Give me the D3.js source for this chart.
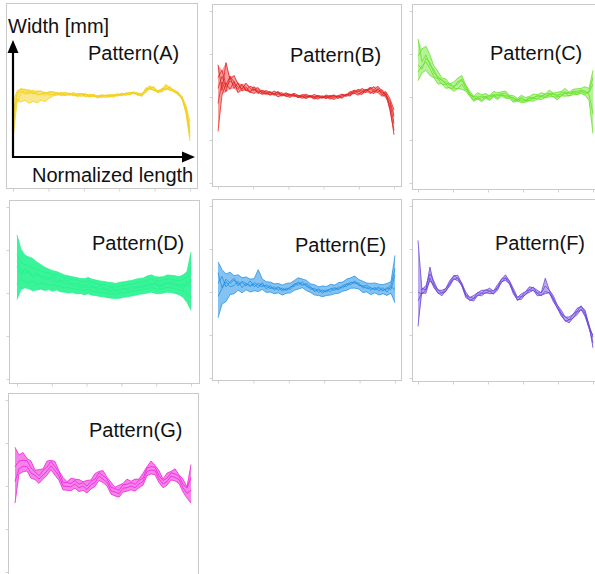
<!DOCTYPE html>
<html>
<head>
<meta charset="utf-8">
<script src="https://cdn.jsdelivr.net/npm/d3@7"></script>
<style>
  html, body { margin: 0; padding: 0; background: #fff; }
  svg { display: block; font-family: "Liberation Sans", Arial, Helvetica, sans-serif; }
</style>
</head>
<body>
<svg id="chart" width="595" height="574"></svg>
<script>
// Width profiles along the normalized length (45 samples per trace, 0 → 1)
const patternNames = ["Pattern(A)", "Pattern(B)", "Pattern(C)", "Pattern(D)", "Pattern(E)", "Pattern(F)", "Pattern(G)"];
const lengthTicks = [0, 0.2, 0.4, 0.6, 0.8, 1];
const widthTicks = [0, 1, 2, 3, 4];

const tracesA = [
  [1.30, 2.02, 2.18, 2.06, 2.15, 2.04, 2.12, 2.10, 2.01, 2.11, 2.08, 2.02, 2.09, 2.03, 2.07, 2.00, 2.06, 2.05, 1.98, 2.04, 2.03, 1.95, 2.03, 2.01, 1.97, 2.04, 2.00, 2.07, 2.01, 2.09, 2.05, 2.08, 1.99, 2.19, 2.15, 2.22, 2.07, 2.18, 2.14, 2.22, 2.09, 2.10, 1.92, 1.72, 1.05],
  [1.00, 1.85, 2.08, 2.13, 2.04, 2.10, 2.02, 2.05, 2.09, 2.02, 2.04, 2.09, 2.00, 2.07, 2.01, 2.06, 1.98, 2.03, 2.04, 1.97, 2.00, 2.00, 1.96, 2.02, 2.03, 1.97, 2.05, 2.00, 2.06, 2.03, 2.10, 2.01, 2.05, 2.10, 2.24, 2.12, 2.13, 2.09, 2.24, 2.12, 2.15, 2.02, 1.98, 1.58, 0.95],
  [1.70, 1.92, 1.86, 1.90, 1.83, 1.88, 1.84, 1.90, 1.87, 1.95, 2.00, 2.03, 2.07, 2.01, 2.05, 2.03, 2.04, 1.99, 2.04, 2.02, 1.98, 2.01, 2.02, 1.96, 2.02, 2.01, 2.00, 2.04, 2.06, 2.03, 2.07, 2.03, 2.00, 2.16, 2.18, 2.13, 2.12, 2.16, 2.18, 2.14, 2.13, 2.08, 1.96, 1.64, 1.25],
  [1.85, 2.12, 2.15, 2.16, 2.11, 2.13, 2.09, 2.12, 2.06, 2.08, 2.10, 2.07, 2.05, 2.09, 2.04, 2.08, 2.03, 2.06, 2.05, 2.01, 2.04, 1.99, 2.02, 2.00, 2.03, 2.02, 2.05, 2.02, 2.07, 2.08, 2.06, 2.04, 2.06, 2.12, 2.21, 2.19, 2.08, 2.12, 2.27, 2.18, 2.12, 2.05, 2.00, 1.78, 1.40],
  [1.50, 2.08, 2.10, 2.04, 2.09, 2.07, 2.05, 2.03, 2.08, 2.05, 2.02, 2.06, 2.03, 2.01, 2.06, 2.02, 2.01, 2.05, 2.00, 1.99, 2.02, 1.97, 1.99, 2.02, 1.99, 2.01, 2.03, 2.05, 2.02, 2.05, 2.09, 2.06, 2.03, 2.08, 2.17, 2.14, 2.10, 2.15, 2.16, 2.20, 2.10, 2.07, 1.94, 1.70, 1.15]
];

const tracesB = [
  [2.45, 2.62, 2.28, 2.48, 2.35, 2.22, 2.30, 2.14, 2.25, 2.20, 2.08, 2.16, 2.12, 2.05, 2.14, 2.08, 2.02, 2.10, 2.05, 2.07, 1.98, 2.06, 2.03, 1.99, 2.06, 2.02, 1.97, 2.05, 2.01, 2.04, 1.96, 2.06, 2.03, 2.13, 2.07, 2.18, 2.14, 2.10, 2.23, 2.16, 2.25, 2.12, 2.04, 1.90, 1.55],
  [1.20, 2.05, 2.32, 2.18, 2.36, 2.10, 2.20, 2.24, 2.12, 2.08, 2.17, 2.10, 2.06, 2.13, 2.04, 2.07, 2.10, 2.01, 2.05, 2.04, 1.99, 2.03, 1.96, 2.02, 2.00, 1.95, 2.03, 1.98, 2.00, 1.94, 2.03, 1.99, 2.07, 2.02, 2.15, 2.09, 2.06, 2.18, 2.12, 2.08, 2.20, 2.05, 2.10, 1.75, 1.12],
  [2.75, 2.15, 2.80, 2.40, 2.50, 2.30, 2.18, 2.32, 2.20, 2.15, 2.22, 2.09, 2.15, 2.11, 2.06, 2.13, 2.05, 2.08, 2.02, 2.09, 2.04, 2.00, 2.07, 2.01, 1.98, 2.04, 2.01, 1.96, 2.04, 2.00, 2.03, 2.07, 2.01, 2.10, 2.16, 2.11, 2.20, 2.13, 2.18, 2.24, 2.12, 2.17, 1.98, 1.84, 1.38],
  [1.85, 2.35, 2.12, 2.48, 2.20, 2.33, 2.14, 2.20, 2.10, 2.24, 2.12, 2.06, 2.10, 2.04, 2.09, 2.00, 2.06, 2.03, 1.99, 2.05, 2.01, 1.97, 2.00, 2.02, 1.95, 2.00, 1.99, 2.02, 1.95, 2.00, 2.02, 1.97, 2.06, 2.05, 2.10, 2.04, 2.13, 2.18, 2.08, 2.15, 2.10, 2.02, 2.06, 1.68, 1.22],
  [2.20, 2.48, 2.22, 2.38, 2.28, 2.18, 2.27, 2.16, 2.13, 2.18, 2.11, 2.14, 2.08, 2.10, 2.07, 2.11, 2.04, 2.05, 2.07, 2.01, 2.04, 2.02, 2.00, 2.04, 2.01, 2.01, 1.98, 2.01, 2.00, 2.05, 1.99, 2.03, 2.04, 2.08, 2.12, 2.15, 2.09, 2.16, 2.20, 2.12, 2.18, 2.09, 2.12, 1.96, 1.70]
];

const tracesC = [
  [2.95, 3.12, 3.18, 2.98, 2.72, 2.60, 2.44, 2.42, 2.30, 2.35, 2.44, 2.50, 2.28, 2.14, 2.02, 2.10, 2.05, 2.08, 2.03, 2.13, 2.10, 2.12, 2.14, 2.04, 2.03, 1.97, 2.04, 1.99, 2.01, 2.07, 2.05, 2.10, 2.07, 2.16, 2.09, 2.11, 2.13, 2.20, 2.11, 2.18, 2.19, 2.20, 2.24, 2.20, 2.62],
  [2.38, 2.56, 2.62, 2.50, 2.45, 2.30, 2.31, 2.20, 2.23, 2.13, 2.20, 2.18, 2.14, 2.02, 1.90, 1.96, 1.89, 1.97, 1.92, 2.00, 1.94, 2.02, 1.97, 1.96, 1.88, 1.90, 1.87, 1.88, 1.91, 1.90, 1.96, 1.94, 1.99, 2.00, 2.01, 1.93, 2.03, 2.02, 2.03, 2.05, 2.06, 2.08, 2.04, 1.92, 1.15],
  [3.35, 2.82, 2.98, 2.74, 2.63, 2.44, 2.40, 2.30, 2.31, 2.22, 2.36, 2.38, 2.27, 2.06, 2.01, 2.00, 2.02, 2.01, 2.03, 2.05, 2.06, 2.07, 2.09, 2.00, 1.98, 1.92, 1.99, 1.91, 1.99, 1.97, 2.04, 2.01, 2.07, 2.08, 2.09, 2.01, 2.11, 2.11, 2.10, 2.13, 2.13, 2.16, 2.14, 2.06, 1.60],
  [2.58, 2.72, 2.82, 2.66, 2.47, 2.43, 2.30, 2.29, 2.20, 2.21, 2.19, 2.30, 2.16, 2.05, 1.93, 1.99, 1.92, 2.01, 1.94, 2.05, 1.97, 2.07, 2.00, 2.00, 1.91, 1.93, 1.91, 1.91, 1.92, 1.97, 1.95, 2.01, 1.98, 2.07, 2.00, 2.00, 2.02, 2.10, 2.02, 2.12, 2.05, 2.15, 2.06, 2.14, 2.45],
  [2.75, 2.65, 2.90, 2.80, 2.55, 2.48, 2.38, 2.34, 2.27, 2.25, 2.30, 2.42, 2.20, 2.09, 1.98, 1.95, 1.99, 1.98, 2.00, 2.02, 2.03, 2.04, 2.03, 2.02, 1.96, 1.94, 1.96, 1.93, 1.96, 1.99, 2.01, 2.03, 2.02, 2.05, 2.06, 2.04, 2.06, 2.08, 2.09, 2.09, 2.10, 2.12, 2.11, 2.10, 2.30]
];

const tracesD = [
  [3.35, 3.02, 2.88, 2.84, 2.80, 2.72, 2.66, 2.60, 2.56, 2.52, 2.50, 2.46, 2.42, 2.40, 2.38, 2.36, 2.34, 2.33, 2.36, 2.32, 2.30, 2.28, 2.27, 2.25, 2.24, 2.22, 2.25, 2.26, 2.28, 2.29, 2.32, 2.34, 2.35, 2.40, 2.42, 2.38, 2.37, 2.38, 2.42, 2.41, 2.40, 2.38, 2.42, 2.50, 2.95],
  [1.85, 2.08, 2.12, 2.10, 2.05, 2.07, 2.09, 2.06, 2.08, 2.04, 2.07, 2.03, 2.02, 2.00, 2.01, 1.98, 1.99, 1.96, 1.98, 1.95, 1.94, 1.92, 1.91, 1.89, 1.88, 1.87, 1.88, 1.90, 1.91, 1.93, 1.95, 1.97, 1.98, 2.00, 2.02, 1.99, 1.98, 2.00, 2.02, 2.01, 1.99, 1.96, 1.90, 1.78, 1.60],
  [2.62, 2.44, 2.56, 2.47, 2.40, 2.50, 2.34, 2.41, 2.30, 2.38, 2.33, 2.24, 2.31, 2.27, 2.18, 2.24, 2.20, 2.12, 2.23, 2.16, 2.12, 2.18, 2.07, 2.10, 2.14, 2.02, 2.09, 2.12, 2.06, 2.15, 2.10, 2.19, 2.13, 2.24, 2.17, 2.25, 2.15, 2.22, 2.27, 2.17, 2.24, 2.14, 2.21, 2.16, 2.32],
  [2.90, 2.70, 2.66, 2.62, 2.58, 2.55, 2.52, 2.48, 2.47, 2.42, 2.43, 2.38, 2.36, 2.35, 2.30, 2.31, 2.27, 2.26, 2.28, 2.24, 2.23, 2.19, 2.20, 2.16, 2.15, 2.14, 2.16, 2.17, 2.20, 2.20, 2.23, 2.26, 2.25, 2.30, 2.33, 2.29, 2.27, 2.31, 2.33, 2.32, 2.30, 2.28, 2.31, 2.36, 2.60],
  [2.20, 2.32, 2.26, 2.24, 2.28, 2.20, 2.23, 2.22, 2.18, 2.20, 2.16, 2.16, 2.12, 2.13, 2.10, 2.09, 2.08, 2.06, 2.09, 2.05, 2.03, 2.02, 2.00, 1.99, 1.98, 1.97, 1.99, 2.00, 2.02, 2.03, 2.05, 2.07, 2.08, 2.11, 2.12, 2.10, 2.09, 2.11, 2.13, 2.12, 2.10, 2.08, 2.04, 2.00, 1.90],
  [2.75, 2.55, 2.45, 2.52, 2.36, 2.44, 2.40, 2.30, 2.36, 2.32, 2.24, 2.30, 2.22, 2.20, 2.24, 2.16, 2.14, 2.20, 2.12, 2.15, 2.10, 2.08, 2.13, 2.04, 2.06, 2.08, 2.02, 2.10, 2.09, 2.06, 2.15, 2.12, 2.16, 2.18, 2.20, 2.22, 2.14, 2.18, 2.22, 2.26, 2.16, 2.20, 2.10, 2.28, 2.15]
];

const tracesE = [
  [2.70, 2.52, 2.42, 2.46, 2.38, 2.40, 2.33, 2.35, 2.30, 2.31, 2.52, 2.30, 2.24, 2.23, 2.19, 2.20, 2.16, 2.20, 2.21, 2.27, 2.33, 2.30, 2.27, 2.19, 2.17, 2.12, 2.14, 2.13, 2.18, 2.16, 2.22, 2.23, 2.30, 2.33, 2.37, 2.29, 2.25, 2.21, 2.20, 2.21, 2.18, 2.17, 2.20, 2.24, 2.85],
  [1.40, 1.72, 1.78, 1.94, 1.96, 2.04, 1.98, 2.05, 2.00, 2.03, 2.01, 2.06, 1.99, 2.00, 1.96, 1.98, 1.93, 1.97, 1.98, 2.04, 2.07, 2.10, 2.03, 1.99, 1.93, 1.92, 1.89, 1.92, 1.93, 1.96, 1.97, 2.02, 2.04, 2.09, 2.09, 2.07, 1.99, 2.00, 1.94, 1.98, 1.93, 1.96, 1.92, 1.97, 1.75],
  [2.20, 2.36, 2.12, 2.24, 2.32, 2.18, 2.22, 2.14, 2.26, 2.12, 2.20, 2.16, 2.13, 2.08, 2.12, 2.04, 2.09, 2.05, 2.12, 2.14, 2.23, 2.18, 2.17, 2.06, 2.09, 1.99, 2.04, 2.00, 2.08, 2.04, 2.12, 2.09, 2.18, 2.16, 2.26, 2.15, 2.14, 2.08, 2.10, 2.05, 2.08, 2.03, 2.10, 2.06, 2.40],
  [1.90, 2.08, 2.24, 2.12, 2.15, 2.25, 2.10, 2.20, 2.13, 2.18, 2.10, 2.22, 2.07, 2.15, 2.05, 2.10, 2.02, 2.09, 2.06, 2.17, 2.16, 2.24, 2.12, 2.11, 2.01, 2.05, 1.97, 2.05, 2.01, 2.08, 2.05, 2.14, 2.13, 2.23, 2.20, 2.21, 2.09, 2.12, 2.04, 2.11, 2.02, 2.10, 2.00, 2.13, 2.05],
  [2.45, 2.10, 2.30, 2.20, 2.28, 2.14, 2.25, 2.19, 2.15, 2.22, 2.16, 2.12, 2.17, 2.11, 2.07, 2.12, 2.06, 2.04, 2.11, 2.19, 2.21, 2.15, 2.20, 2.12, 2.04, 2.07, 2.02, 2.03, 2.07, 2.10, 2.07, 2.15, 2.19, 2.21, 2.23, 2.17, 2.13, 2.16, 2.09, 2.07, 2.12, 2.04, 2.07, 2.16, 2.55]
];

const tracesF = [
  [3.20, 2.05, 2.15, 2.42, 2.25, 2.04, 2.04, 2.08, 2.27, 2.38, 2.39, 2.20, 2.00, 1.87, 1.92, 1.98, 2.04, 2.04, 2.09, 2.02, 2.17, 2.30, 2.40, 2.25, 2.08, 1.87, 1.96, 2.00, 2.12, 2.10, 2.04, 1.98, 2.14, 2.04, 1.92, 1.70, 1.58, 1.42, 1.42, 1.48, 1.62, 1.66, 1.58, 1.23, 0.95],
  [1.80, 1.98, 1.97, 2.33, 2.10, 1.98, 1.91, 2.03, 2.14, 2.31, 2.26, 2.16, 1.87, 1.82, 1.79, 1.93, 1.91, 1.99, 1.96, 1.97, 2.04, 2.24, 2.27, 2.20, 1.95, 1.82, 1.83, 1.95, 1.99, 2.05, 1.91, 1.93, 1.96, 1.99, 1.78, 1.64, 1.44, 1.34, 1.28, 1.40, 1.47, 1.60, 1.43, 1.17, 0.82],
  [1.20, 2.08, 2.05, 2.58, 2.16, 2.06, 1.97, 2.09, 2.20, 2.38, 2.32, 2.21, 1.93, 1.88, 1.85, 1.99, 1.97, 2.05, 2.02, 2.03, 2.10, 2.30, 2.33, 2.26, 2.01, 1.88, 1.89, 2.01, 2.05, 2.11, 1.97, 1.99, 2.32, 2.05, 1.84, 1.70, 1.50, 1.42, 1.35, 1.48, 1.55, 1.68, 1.51, 1.24, 0.70],
  [2.00, 1.95, 2.06, 2.26, 2.16, 1.97, 1.98, 2.01, 2.20, 2.29, 2.32, 2.14, 1.93, 1.80, 1.85, 1.91, 1.97, 1.97, 2.02, 1.95, 2.10, 2.22, 2.33, 2.18, 2.01, 1.80, 1.89, 1.93, 2.05, 2.03, 1.97, 1.91, 2.02, 1.97, 1.84, 1.62, 1.50, 1.32, 1.35, 1.39, 1.54, 1.58, 1.50, 1.15, 1.00]
];

const tracesG = [
  [2.90, 2.72, 2.78, 2.64, 2.58, 2.37, 2.38, 2.40, 2.58, 2.60, 2.57, 2.35, 2.20, 2.10, 2.18, 2.16, 2.15, 2.10, 2.13, 2.14, 2.29, 2.34, 2.36, 2.20, 2.09, 1.97, 2.02, 2.06, 2.16, 2.11, 2.16, 2.16, 2.30, 2.45, 2.58, 2.48, 2.36, 2.16, 2.30, 2.34, 2.40, 2.26, 2.16, 1.98, 2.50],
  [1.60, 2.28, 2.33, 2.35, 2.18, 2.15, 2.06, 2.16, 2.25, 2.38, 2.25, 2.13, 1.91, 1.90, 1.89, 1.95, 1.87, 1.90, 1.84, 1.93, 1.99, 2.13, 2.08, 2.00, 1.81, 1.77, 1.74, 1.86, 1.88, 1.91, 1.88, 1.96, 2.02, 2.24, 2.28, 2.26, 2.08, 1.96, 2.02, 2.14, 2.12, 2.06, 1.86, 1.72, 1.60],
  [2.45, 2.58, 2.60, 2.59, 2.42, 2.33, 2.24, 2.36, 2.44, 2.57, 2.45, 2.33, 2.08, 2.08, 2.06, 2.13, 2.04, 2.08, 2.00, 2.11, 2.16, 2.31, 2.24, 2.17, 1.97, 1.94, 1.90, 2.03, 2.04, 2.08, 2.04, 2.13, 2.18, 2.42, 2.45, 2.44, 2.24, 2.13, 2.18, 2.31, 2.28, 2.23, 2.04, 1.95, 2.20],
  [2.10, 2.40, 2.46, 2.45, 2.30, 2.25, 2.16, 2.25, 2.35, 2.47, 2.36, 2.23, 2.00, 1.99, 1.98, 2.05, 1.96, 2.00, 1.92, 2.03, 2.08, 2.23, 2.16, 2.09, 1.89, 1.86, 1.82, 1.95, 1.96, 2.00, 1.96, 2.05, 2.10, 2.34, 2.37, 2.36, 2.16, 2.05, 2.10, 2.23, 2.20, 2.15, 1.96, 1.83, 1.90]
];

const patternTraces = [tracesA, tracesB, tracesC, tracesD, tracesE, tracesF, tracesG];

// Panel frames: box = [left, top, right, bottom], plot = [x at 0, x at 1], base = y at width 0
const panelLayout = [
  { box: [6, 3, 197, 188],     plot: [13, 190],  base: 182, title: [88, 60],   color: "#f2cf18", band: 0.50, ticks: false },
  { box: [212, 4, 401, 186],   plot: [218, 394], base: 183, title: [290, 62],  color: "#e2201e", band: 0.42, ticks: true },
  { box: [412, 4, 600, 189],   plot: [418, 593], base: 183, title: [490, 60],  color: "#5fe01e", band: 0.45, ticks: true },
  { box: [9, 200, 199, 383],   plot: [17, 191],  base: 379, title: [92, 250],  color: "#20f28c", band: 0.88, ticks: true },
  { box: [212, 199, 401, 380], plot: [218, 395], base: 378, title: [295, 252], color: "#1d8fe6", band: 0.55, ticks: true },
  { box: [412, 199, 600, 381], plot: [418, 593], base: 378, title: [495, 250], color: "#6a42da", band: 0.45, ticks: true },
  { box: [8, 393, 198, 578],   plot: [15, 191],  base: 572, title: [89, 437],  color: "#ec1ed8", band: 0.55, ticks: true }
];

const svg = d3.select("#chart");
const unitPx = 43; // pixels per width unit
const fontPx = 20;

patternTraces.forEach((traces, p) => {
  const lay = panelLayout[p];
  const [bl, bt, br, bb] = lay.box;
  const g = svg.append("g");

  g.append("rect")
    .attr("x", bl + 0.5).attr("y", bt + 0.5)
    .attr("width", br - bl).attr("height", bb - bt)
    .attr("fill", "none").attr("stroke", "#c9c9c9").attr("stroke-width", 1);

  const n = traces[0].length;
  const x = d3.scaleLinear().domain([0, 1]).range(lay.plot);
  const y = d3.scaleLinear().domain([0, 4]).range([lay.base, lay.base - 4 * unitPx]);

  // faint tick marks on the frame
  const xAxis = g.append("g").attr("transform", `translate(0,${bb + 0.5})`)
    .call(d3.axisBottom(x).tickValues(lengthTicks).tickSize(3).tickFormat(""));
  xAxis.select(".domain").remove();
  xAxis.selectAll("line").attr("stroke", "#d2d2d2");
  if (lay.ticks) {
    const yAxis = g.append("g").attr("transform", `translate(${bl + 0.5},0)`)
      .call(d3.axisLeft(y).tickValues(widthTicks).tickSize(3).tickFormat(""));
    yAxis.select(".domain").remove();
    yAxis.selectAll("line").attr("stroke", "#d2d2d2");
  }

  const xi = i => x(i / (n - 1));

  // envelope of all traces
  const env = d3.range(n).map(i => ({
    i,
    lo: d3.min(traces, t => t[i]),
    hi: d3.max(traces, t => t[i])
  }));
  g.append("path")
    .datum(env)
    .attr("d", d3.area().x(d => xi(d.i)).y0(d => y(d.lo)).y1(d => y(d.hi)))
    .attr("fill", lay.color).attr("fill-opacity", lay.band);

  const line = d3.line().x((d, i) => xi(i)).y(d => y(d));
  g.selectAll("path.trace").data(traces).join("path")
    .attr("class", "trace")
    .attr("d", line)
    .attr("fill", "none")
    .attr("stroke", lay.color)
    .attr("stroke-width", 1)
    .attr("stroke-opacity", 0.75);

  g.append("text")
    .attr("x", lay.title[0]).attr("y", lay.title[1])
    .attr("font-size", fontPx).attr("fill", "#111")
    .text(patternNames[p]);
});

// Axis arrows with labels for the first panel
const arrowG = svg.append("g");
const ox = 13, oy = 157;
arrowG.append("line").attr("x1", ox).attr("y1", oy + 1).attr("x2", ox).attr("y2", 50)
  .attr("stroke", "#000").attr("stroke-width", 2.2);
arrowG.append("line").attr("x1", ox - 1).attr("y1", oy).attr("x2", 184).attr("y2", oy)
  .attr("stroke", "#000").attr("stroke-width", 2.2);
arrowG.append("path").attr("d", `M${ox},40 L${ox - 5.5},53 L${ox + 5.5},53 Z`).attr("fill", "#000");
arrowG.append("path").attr("d", `M195,${oy} L182,${oy - 5.5} L182,${oy + 5.5} Z`).attr("fill", "#000");
arrowG.append("text").attr("x", 8).attr("y", 33).attr("font-size", fontPx).attr("fill", "#111").text("Width [mm]");
arrowG.append("text").attr("x", 32).attr("y", 182).attr("font-size", fontPx).attr("fill", "#111").text("Normalized length");
</script>
</body>
</html>
